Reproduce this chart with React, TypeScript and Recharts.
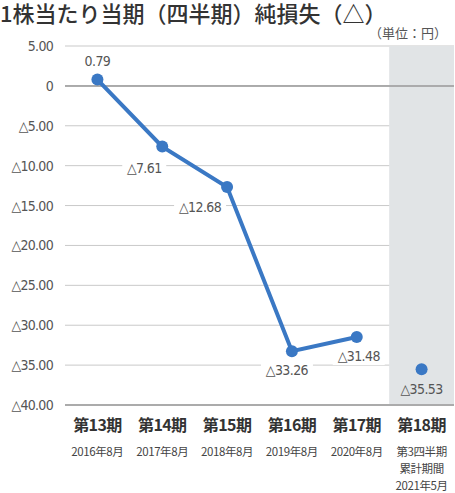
import React from 'react';
import { LineChart, Line, XAxis, YAxis, CartesianGrid, ReferenceArea, ReferenceLine, LabelList } from 'recharts';

const categories = ['第13期', '第14期', '第15期', '第16期', '第17期', '第18期'];
const periodNotes = [
  ['2016年8月'],
  ['2017年8月'],
  ['2018年8月'],
  ['2019年8月'],
  ['2020年8月'],
  ['第3四半期', '累計期間', '2021年5月'],
];
const annualLoss = [0.79, -7.61, -12.68, -33.26, -31.48, null];
const quarterLoss = [null, null, null, null, null, -35.53];
const yTicks = [5, 0, -5, -10, -15, -20, -25, -30, -35, -40];

const title = '1株当たり当期（四半期）純損失（△）';
const unit = '（単位：円）';

const data = categories.map((c, i) => ({ name: c, annual: annualLoss[i], quarter: quarterLoss[i] }));

const labelOffsets = [
  [0, -19],
  [-18, 21],
  [-27, 20],
  [-5, 19],
  [2, 19],
  [0, 20],
];

const NUM_FONT = '"DejaVu Sans Condensed", "DejaVu Sans", sans-serif';
const JP_FONT = '"Noto Sans CJK JP", sans-serif';
const BLUE = '#3a78c4';

const fmt = (v: number) => (v < 0 ? '△' + Math.abs(v).toFixed(2) : v.toFixed(2));
const fmtTick = (v: number) => (v === 0 ? '0' : v < 0 ? '△' + Math.abs(v).toFixed(2) : v.toFixed(2));

const YTick = (props: any) => {
  const { x, y, payload } = props;
  return (
    <text x={x - 4} y={y} dy={5} textAnchor="end" fill="#555" fontSize={14} fontFamily={NUM_FONT} letterSpacing={-0.7}>
      {fmtTick(payload.value)}
    </text>
  );
};

const XTick = (props: any) => {
  const { x, y, payload } = props;
  const idx = categories.indexOf(payload.value);
  const notes = periodNotes[idx] || [];
  return (
    <g>
      <text x={x} y={y + 18} textAnchor="middle" fill="#333" fontSize={16} fontWeight={700} fontFamily={JP_FONT} letterSpacing={-0.6}>
        {payload.value}
      </text>
      {notes.map((n, k) => (
        <text key={k} x={x} y={y + 43 + k * 17} textAnchor="middle" fill="#444" fontSize={11.5} fontFamily={JP_FONT} letterSpacing={-0.4}>
          {n}
        </text>
      ))}
    </g>
  );
};

const makeLabel = (bg: string) => (props: any) => {
  const { x, y, value, index } = props;
  if (value == null) return null;
  const off = labelOffsets[index] || [0, 20];
  const cx = x + off[0];
  const cy = y + off[1];
  const txt = fmt(value);
  const w = txt.length * 8 + 4;
  return (
    <g>
      <rect x={cx - w / 2} y={cy - 9} width={w} height={18} fill={bg} />
      <text x={cx} y={cy} dy={5} textAnchor="middle" fill="#555" fontSize={14} fontFamily={NUM_FONT} letterSpacing={-0.6}>
        {txt}
      </text>
    </g>
  );
};

export default function App() {
  return (
    <div style={{ position: 'absolute', left: 0, top: 0, width: 455, height: 493, background: '#fff' }}>
      <div style={{ position: 'absolute', left: 0, top: -1, fontFamily: JP_FONT, fontSize: 22, color: '#333', whiteSpace: 'nowrap', lineHeight: '26px', fontWeight: 500 }}>
        {title}
      </div>
      <div style={{ position: 'absolute', left: 369, top: 24, fontFamily: JP_FONT, fontSize: 13, color: '#555', whiteSpace: 'nowrap', lineHeight: '18px' }}>
        {unit}
      </div>
      <div style={{ position: 'absolute', left: 0, top: 0 }}>
        <LineChart width={455} height={493} data={data} margin={{ top: 46, right: 1, left: 0, bottom: 0 }}>
          <ReferenceArea x1="第18期" x2="第18期" fill="#e1e4e6" fillOpacity={1} stroke="none" />
          <CartesianGrid vertical={false} stroke="#c9c9c9" strokeWidth={1} />
          <XAxis
            dataKey="name"
            scale="band"
            tick={<XTick />}
            tickLine={false}
            axisLine={{ stroke: '#999', strokeWidth: 1.5 }}
            interval={0}
            height={88}
          />
          <YAxis
            type="number"
            domain={[-40, 5]}
            ticks={yTicks}
            tick={<YTick />}
            tickLine={false}
            axisLine={false}
            width={65}
            interval={0}
          />
          <ReferenceLine y={0} stroke="#999" strokeWidth={1.5} />
          <Line
            dataKey="annual"
            stroke={BLUE}
            strokeWidth={4}
            dot={{ r: 6, fill: BLUE, stroke: BLUE, strokeWidth: 0 }}
            isAnimationActive={false}
            connectNulls={false}
          >
            <LabelList dataKey="annual" content={makeLabel('#fff')} />
          </Line>
          <Line
            dataKey="quarter"
            stroke="none"
            dot={{ r: 6, fill: BLUE, stroke: BLUE, strokeWidth: 0 }}
            isAnimationActive={false}
          >
            <LabelList dataKey="quarter" content={makeLabel('none')} />
          </Line>
        </LineChart>
      </div>
    </div>
  );
}
